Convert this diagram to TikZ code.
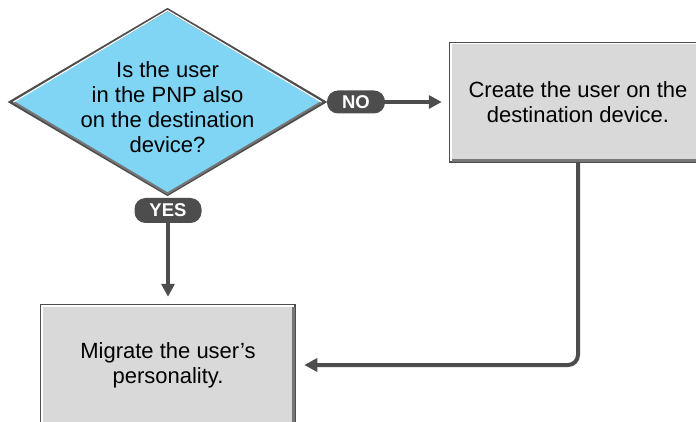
\documentclass[tikz,border=0pt]{standalone}
\usepackage{fontspec}
\setmainfont{Liberation Sans}
\usetikzlibrary{shapes.geometric,arrows.meta}
\definecolor{dk}{HTML}{4D4D4D}
\definecolor{qblue}{HTML}{80D4F4}
\definecolor{bgray}{HTML}{D9D9D9}
\definecolor{shade}{HTML}{767676}
\begin{document}
\begin{tikzpicture}[x=1pt,y=-1pt,
  conn/.style={draw=dk, line width=4pt},
  tipped/.style={-{Triangle[length=13pt,width=13pt]}},
  pill/.style={fill=dk, text=white, font=\fontsize{18.5}{20}\selectfont\bfseries, rounded corners=11pt, inner sep=0pt},
  box/.style={draw=dk, line width=2.5pt, fill=bgray, inner sep=0pt, align=center, font=\fontsize{22}{25}\selectfont},
  hl/.style={draw=white, line width=1.5pt},
  sh/.style={draw=shade, line width=3pt},
  qtext/.style={align=center, font=\fontsize{22}{25}\selectfont, inner sep=0pt}]
\useasboundingbox (0,0) rectangle (696,422);
\fill[white] (0,0) rectangle (696,422);
\clip (0,0) rectangle (696,422);

% decision
\node[diamond, draw=dk, line width=3pt, fill=qblue, minimum width=315pt, minimum height=186pt, inner sep=0pt] (q) at (167.5,102) {};
\draw[sh, line width=2pt] ([xshift=5pt]q.west) -- ([yshift=3pt]q.south) -- ([xshift=-5pt]q.east);
\draw[hl, line width=1.2pt] ([xshift=5pt]q.west) -- ([yshift=-3pt]q.north) -- ([xshift=-5pt]q.east);
\node[qtext] (qt) at (167.5,107) {Is the user\\in the PNP also\\on the destination\\device?};

% boxes
\node[box, minimum width=256pt, minimum height=119pt] (create) at (578,102.5) {Create the user on the\\destination device.};
\draw[sh] ([shift={(-2.75pt,-2.75pt)}]create.north east) |- ([shift={(2.75pt,2.75pt)}]create.south west);
\draw[hl] ([shift={(2pt,2pt)}]create.south west) |- ([shift={(-2pt,-2pt)}]create.north east);

\node[box, minimum width=254pt, minimum height=120pt] (mig) at (168,365) {Migrate the user’s\\personality.};
\draw[sh] ([shift={(-2.75pt,-2.75pt)}]mig.north east) |- ([shift={(2.75pt,2.75pt)}]mig.south west);
\draw[hl] ([shift={(2pt,2pt)}]mig.south west) |- ([shift={(-2pt,-2pt)}]mig.north east);

% labels
\node[pill, minimum width=67pt, minimum height=25pt] (yes) at (168,210.5) {YES};
\node[pill, minimum width=58pt, minimum height=23pt] (no) at (356,102) {NO};

% connectors
\draw[conn, tipped, shorten >=7pt] (no.east) -- (no.east -| create.west);
\draw[conn, tipped, shorten >=7pt] (yes.south) -- (mig.north);
\draw[conn, tipped, rounded corners=10pt, shorten >=8pt] (create.south) |- (mig.east);
\end{tikzpicture}
\end{document}
